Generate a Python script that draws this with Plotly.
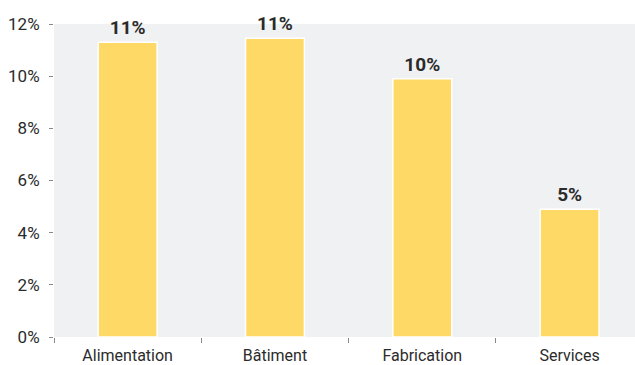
import plotly.graph_objects as go

# Share by sector
categories = ["Alimentation", "Bâtiment", "Fabrication", "Services"]
shares = [0.113, 0.1145, 0.099, 0.049]

y_tick_values = [0, 0.02, 0.04, 0.06, 0.08, 0.10, 0.12]

FONT = "Roboto, Liberation Sans, sans-serif"

fig = go.Figure(
    go.Bar(
        x=categories,
        y=shares,
        width=0.4,
        marker=dict(color="#ffd966", line=dict(color="white", width=1.5)),
        texttemplate="%{y:.0%}",
        textposition="outside",
        textfont=dict(family=FONT, size=19, color="#2b2b2b", weight="bold"),
        cliponaxis=False,
    )
)

fig.update_layout(
    width=635,
    height=365,
    margin=dict(l=54, r=0, t=24, b=28),
    paper_bgcolor="white",
    plot_bgcolor="#f0f1f3",
    showlegend=False,
    font=dict(family=FONT, size=16, color="#2b2b2b"),
    bargap=0.6,
)

fig.update_xaxes(
    range=[-0.5, 3.444],
    tickson="boundaries",
    ticks="outside",
    ticklen=5,
    tickcolor="#888888",
    tickwidth=1,
    showgrid=False,
    showline=False,
    ticklabelstandoff=7,
    automargin=False,
    tickfont=dict(size=16),
)

fig.update_yaxes(
    range=[0, 0.12],
    tickvals=y_tick_values,
    tickformat=".0%",
    ticks="outside",
    ticklen=4,
    tickcolor="#888888",
    ticklabelstandoff=6,
    showgrid=False,
    zeroline=False,
    showline=False,
    automargin=False,
    tickfont=dict(size=17),
)

fig.write_html("out.html")
